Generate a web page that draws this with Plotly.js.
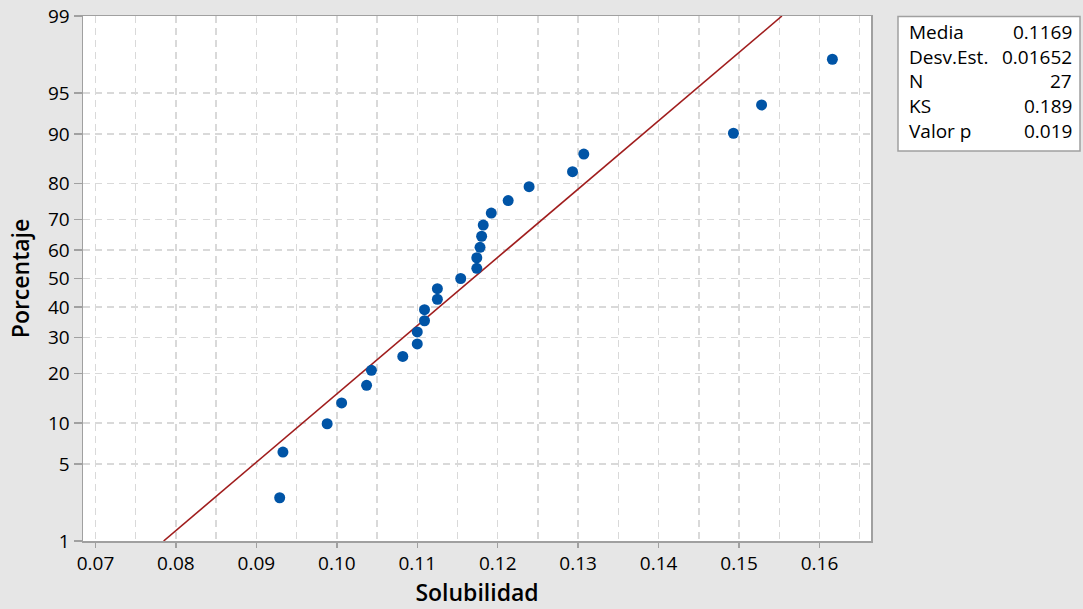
<!DOCTYPE html>
<html>
<head>
<meta charset="utf-8">
<script src="https://cdn.plot.ly/plotly-3.0.1.min.js"></script>
<style>
  html, body { margin: 0; padding: 0; background: #e6e6e6; }
  #chart { width: 1083px; height: 609px; }
</style>
</head>
<body>
<div id="chart"></div>
<script>
// ---- Data ----
const solubilidad = [0.0929, 0.0933, 0.0988, 0.1006, 0.1037, 0.1043, 0.1082, 0.1100, 0.1100,
  0.1109, 0.1109, 0.1125, 0.1125, 0.1154, 0.1174, 0.1174, 0.1178, 0.1180, 0.1182, 0.1192,
  0.1213, 0.1239, 0.1293, 0.1307, 0.1493, 0.1528, 0.1616];
const porcentaje = [2.6, 6.2, 9.9, 13.5, 17.2, 20.8, 24.5, 28.1, 31.8, 35.4, 39.1, 42.7, 46.4,
  50.0, 53.6, 57.3, 60.9, 64.6, 68.2, 71.9, 75.5, 79.2, 82.8, 86.5, 90.1, 93.8, 97.4];

// fitted line end points (percent 1 and 99)
const lineX = [0.07847, 0.15533];
const linePct = [1, 99];

const xTicks = [0.07, 0.08, 0.09, 0.10, 0.11, 0.12, 0.13, 0.14, 0.15, 0.16];
const yTicksPct = [1, 5, 10, 20, 30, 40, 50, 60, 70, 80, 90, 95, 99];

const statLabels = ["Media", "Desv.Est.", "N", "KS", "Valor p"];
const statValues = ["0.1169", "0.01652", "27", "0.189", "0.019"];

// ---- probability (normal) scale transform ----
function probit(p) {
  const a = [-3.969683028665376e+01, 2.209460984245205e+02, -2.759285104469687e+02,
    1.383577518672690e+02, -3.066479806614716e+01, 2.506628277459239e+00];
  const b = [-5.447609879822406e+01, 1.615858368580409e+02, -1.556989798598866e+02,
    6.680131188771972e+01, -1.328068155288572e+01];
  const c = [-7.784894002430293e-03, -3.223964580411365e-01, -2.400758277161838e+00,
    -2.549732539343734e+00, 4.374664141464968e+00, 2.938163982698783e+00];
  const d = [7.784695709041462e-03, 3.224671290700398e-01, 2.445134137142996e+00,
    3.754408661907416e+00];
  const pl = 0.02425, ph = 1 - pl;
  let q, r;
  if (p < pl) {
    q = Math.sqrt(-2 * Math.log(p));
    return (((((c[0]*q+c[1])*q+c[2])*q+c[3])*q+c[4])*q+c[5]) / ((((d[0]*q+d[1])*q+d[2])*q+d[3])*q+1);
  }
  if (p <= ph) {
    q = p - 0.5; r = q * q;
    return (((((a[0]*r+a[1])*r+a[2])*r+a[3])*r+a[4])*r+a[5])*q / (((((b[0]*r+b[1])*r+b[2])*r+b[3])*r+b[4])*r+1);
  }
  q = Math.sqrt(-2 * Math.log(1 - p));
  return -(((((c[0]*q+c[1])*q+c[2])*q+c[3])*q+c[4])*q+c[5]) / ((((d[0]*q+d[1])*q+d[2])*q+d[3])*q+1);
}
const z = pct => probit(pct / 100);

// ---- layout geometry helpers (pixel -> paper) ----
const W = 1083, H = 609;
const M = { l: 83, r: 212, t: 16, b: 68 };
const pw = W - M.l - M.r, ph = H - M.t - M.b;
const px = x => (x - M.l) / pw;
const py = y => (H - M.b - y) / ph;

const FONT = '"Open Sans", "Noto Sans", "DejaVu Sans", sans-serif';

const traces = [
  {
    x: lineX, y: linePct.map(z), type: 'scatter', mode: 'lines',
    line: { color: '#a01d1d', width: 1.6 }, hoverinfo: 'skip'
  },
  {
    x: solubilidad, y: porcentaje.map(z), type: 'scatter', mode: 'markers',
    marker: { color: '#0054a6', size: 11 }
  }
];

const shapes = [{
  type: 'rect', xref: 'paper', yref: 'paper',
  x0: px(898), x1: px(1080), y0: py(151), y1: py(16.5),
  fillcolor: '#ffffff', line: { color: '#a0a0a0', width: 1.5 }, layer: 'above'
}];

const rowY = [32, 57, 81.5, 106, 131];
const annotations = [];
statLabels.forEach((lab, i) => {
  annotations.push({
    xref: 'paper', yref: 'paper', x: px(907), y: py(rowY[i]),
    xanchor: 'left', yanchor: 'middle', text: lab, showarrow: false,
    font: { family: FONT, size: 19, color: '#000' }
  });
  annotations.push({
    xref: 'paper', yref: 'paper', x: px(1074), y: py(rowY[i]),
    xanchor: 'right', yanchor: 'middle', text: statValues[i], showarrow: false,
    font: { family: FONT, size: 19, color: '#000' }
  });
});

const gridColor = '#d9d9d9';
const layout = {
  width: W, height: H,
  margin: M,
  paper_bgcolor: '#e6e6e6',
  plot_bgcolor: '#ffffff',
  showlegend: false,
  font: { family: FONT, color: '#000' },
  xaxis: {
    range: [0.06845, 0.1664],
    tickvals: xTicks,
    ticktext: xTicks.map(v => v.toFixed(2)),
    ticks: 'outside', ticklen: 5, tickwidth: 1.5, tickcolor: '#a0a0a0',
    tickfont: { family: FONT, size: 19, color: '#000' },
    showline: true, linecolor: '#a0a0a0', linewidth: 1.5, mirror: true,
    showgrid: true, gridcolor: gridColor, gridwidth: 1.5, griddash: '7px,5px',
    minor: { dtick: 0.005, tick0: 0.07, showgrid: true, gridcolor: gridColor, gridwidth: 1.5, griddash: '7px,5px', ticks: '' },
    zeroline: false,
    automargin: false,
    title: { text: 'Solubilidad', font: { family: FONT, size: 23, color: '#000', weight: 600 }, standoff: 9 }
  },
  yaxis: {
    range: [z(1), z(99)],
    tickvals: yTicksPct.map(z),
    ticktext: yTicksPct.map(String),
    ticks: 'outside', ticklen: 8, tickwidth: 1.5, tickcolor: '#a0a0a0',
    tickfont: { family: FONT, size: 19, color: '#000' },
    showline: true, linecolor: '#a0a0a0', linewidth: 1.5, mirror: true,
    showgrid: true, gridcolor: gridColor, gridwidth: 1.5, griddash: '7px,5px',
    zeroline: false,
    automargin: false,
    title: { text: 'Porcentaje', font: { family: FONT, size: 23, color: '#000', weight: 600 }, standoff: 12 }
  },
  shapes: shapes,
  annotations: annotations
};

Plotly.newPlot('chart', traces, layout, { displayModeBar: false, staticPlot: true });
</script>
</body>
</html>
